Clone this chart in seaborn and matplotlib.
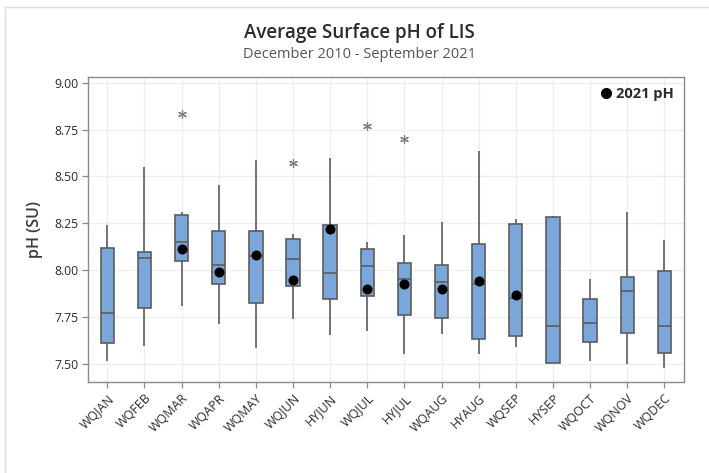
import numpy as np
import pandas as pd
import matplotlib
matplotlib.use("Agg")
import matplotlib.pyplot as plt
import seaborn as sns
from matplotlib.lines import Line2D

# ---- data ----
stations = ["WQJAN", "WQFEB", "WQMAR", "WQAPR", "WQMAY", "WQJUN", "HYJUN", "WQJUL",
            "HYJUL", "WQAUG", "HYAUG", "WQSEP", "HYSEP", "WQOCT", "WQNOV", "WQDEC"]
whisk_lo = [7.515, 7.596, 7.811, 7.713, 7.582, 7.740, 7.655, 7.674,
            7.550, 7.660, 7.550, 7.589, 7.504, 7.515, 7.497, 7.478]
q1 =       [7.612, 7.796, 8.050, 7.924, 7.827, 7.917, 7.848, 7.860,
            7.761, 7.743, 7.630, 7.650, 7.504, 7.616, 7.664, 7.558]
median =   [7.773, 8.064, 8.149, 8.025, 8.073, 8.057, 7.986, 8.023,
            7.952, 7.935, 7.927, 7.851, 7.703, 7.717, 7.887, 7.703]
q3 =       [8.120, 8.099, 8.294, 8.207, 8.207, 8.168, 8.242, 8.113,
            8.039, 8.025, 8.138, 8.248, 8.281, 7.846, 7.965, 7.993]
whisk_hi = [8.239, 8.549, 8.311, 8.455, 8.588, 8.191, 8.598, 8.150,
            8.186, 8.257, 8.634, 8.274, 8.288, 7.952, 8.310, 8.159]

outlier_station = ["WQMAR", "WQJUN", "WQJUL", "HYJUL"]
outlier_value = [8.835, 8.572, 8.770, 8.699]

ph2021_station = ["WQMAR", "WQAPR", "WQMAY", "WQJUN", "HYJUN", "WQJUL",
                  "HYJUL", "WQAUG", "HYAUG", "WQSEP"]
ph2021_value = [8.115, 7.991, 8.083, 7.945, 8.219, 7.901,
                7.926, 7.901, 7.940, 7.867]

yticks = [7.50, 7.75, 8.00, 8.25, 8.50, 8.75, 9.00]

# long-form table: five summary values per station
rows = []
for i, s in enumerate(stations):
    for v in (whisk_lo[i], q1[i], median[i], q3[i], whisk_hi[i]):
        rows.append((s, v))
box_df = pd.DataFrame(rows, columns=["station", "pH"])
out_df = pd.DataFrame({"station": outlier_station, "pH": outlier_value})
dot_df = pd.DataFrame({"station": ph2021_station, "pH": ph2021_value})

# ---- style ----
sns.set_theme(style="white")
plt.rcParams["font.family"] = ["Open Sans", "DejaVu Sans"]

FILL = "#7BA6DA"
EDGE = "#5C5C5C"
TXT = "#2B2B2B"

fig = plt.figure(figsize=(7.09, 4.73), dpi=100)
ax = fig.add_axes([88 / 709, 1 - 382 / 473, (684 - 88) / 709, (382 - 76.7) / 473])

sns.boxplot(data=box_df, x="station", y="pH", order=stations, ax=ax,
            whis=(0, 100), width=0.36, showfliers=False,
            boxprops=dict(facecolor=FILL, edgecolor=EDGE, linewidth=1.2),
            medianprops=dict(color=EDGE, linewidth=1.2),
            whiskerprops=dict(color=EDGE, linewidth=1.2),
            capprops=dict(linewidth=0),
            zorder=3)

sns.scatterplot(data=out_df, x="station", y="pH", ax=ax, marker=(6, 2, 0),
                s=32, color="#808080", edgecolor="#808080", linewidth=0.9, zorder=4)
sns.scatterplot(data=dot_df, x="station", y="pH", ax=ax, marker="o",
                s=52, color="black", edgecolor="black", linewidth=0, zorder=5)

ax.set_xlim(-0.52, 15.53)
ax.set_ylim(7.403, 9.032)
ax.set_yticks(yticks)
ax.set_yticklabels([f"{t:.2f}" for t in yticks], fontsize=8.8, color=TXT)
ax.set_xticks(range(len(stations)))
ax.set_xticklabels(stations, rotation=45, ha="right", rotation_mode="anchor",
                   fontsize=9, color=TXT)
ax.set_xlabel("")
ax.set_ylabel("pH (SU)", fontsize=11.5, color="#3A3A3A", labelpad=8,
              fontweight="semibold")

ax.grid(True, color="#EEEEEE", linewidth=0.9, zorder=0)
ax.set_axisbelow(True)
for sp in ax.spines.values():
    sp.set_color("#8A8A8A")
    sp.set_linewidth(1.0)
ax.tick_params(axis="both", which="both", length=4, width=0.9, color="#8A8A8A",
               direction="out", bottom=True, left=True, pad=3)

# legend
h = [Line2D([], [], marker="o", color="black", linestyle="none", markersize=7)]
leg = ax.legend(h, ["2021 pH"], loc="upper right", frameon=False,
                handletextpad=0.1, borderaxespad=0.3, handlelength=1.2,
                prop=dict(weight="bold", size=10.5))
for t in leg.get_texts():
    t.set_color(TXT)

# titles
fig.text(0.507, 1 - 33 / 473, "Average Surface pH of LIS", ha="center", va="center",
         fontsize=13.5, color=TXT, fontweight="semibold")
fig.text(0.507, 1 - 54 / 473, "December 2010 - September 2021", ha="center",
         va="center", fontsize=10.5, color="#555555")

# screenshot frame lines (top and left)
fig.add_artist(Line2D([5 / 709, 1], [1 - 7 / 473, 1 - 7 / 473], color="#DDDDDD", linewidth=1.0))
fig.add_artist(Line2D([5 / 709, 5 / 709], [0, 1 - 7 / 473], color="#DDDDDD", linewidth=1.0))

fig.savefig("out.png", dpi=100)
